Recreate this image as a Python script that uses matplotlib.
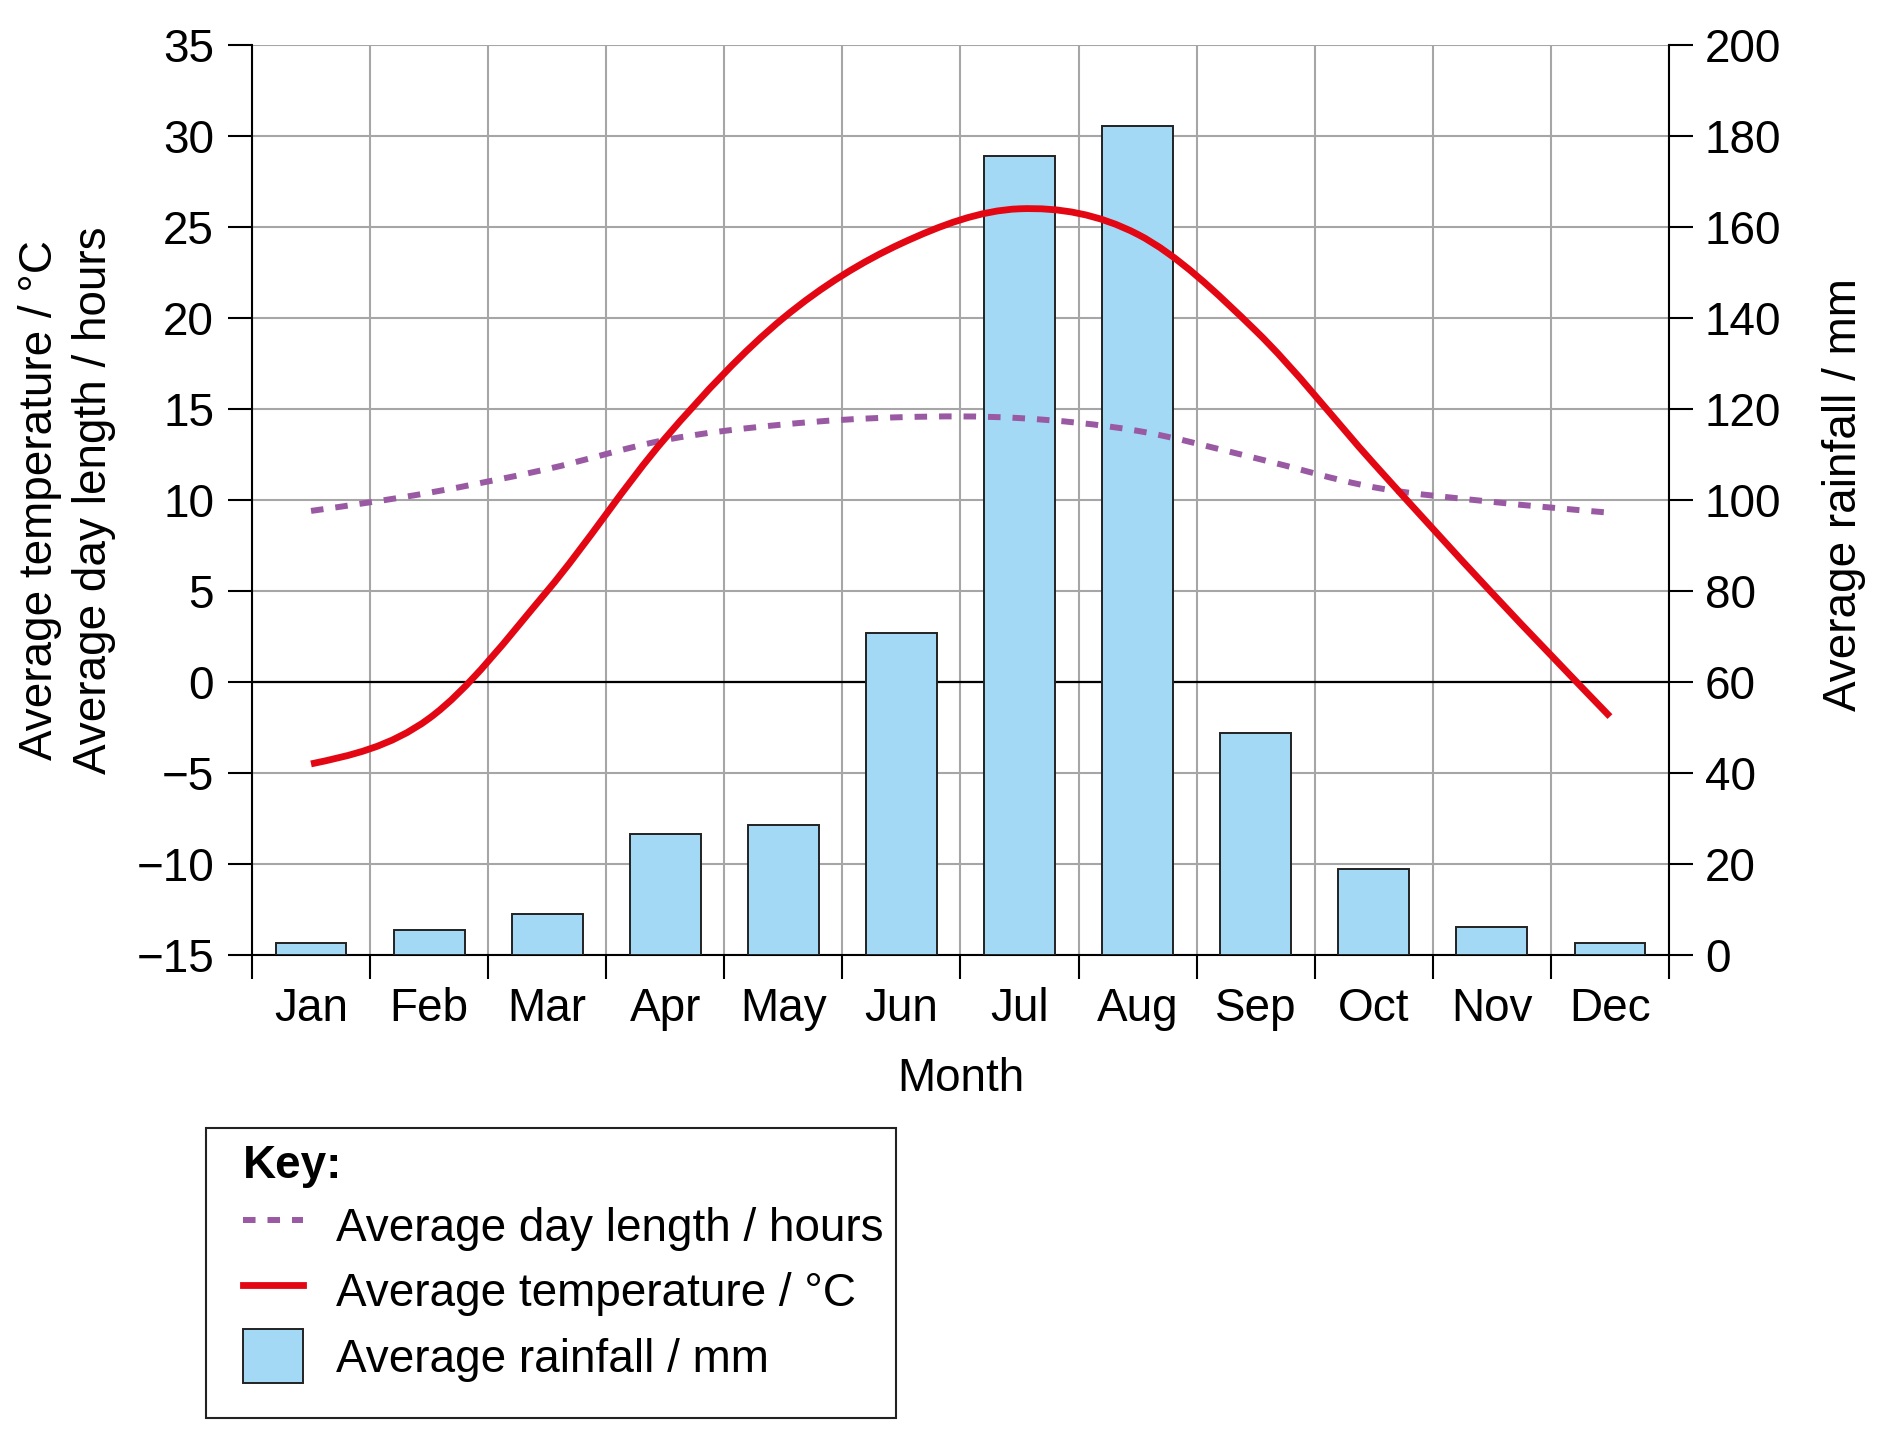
#!/usr/bin/env python3
"""
Climate graph: monthly rainfall bars with temperature and day length curves.
"""

import numpy as np
import matplotlib

matplotlib.use("Agg")
import matplotlib.pyplot as plt
from matplotlib.path import Path
from matplotlib.patches import PathPatch, Patch, Rectangle
from matplotlib.lines import Line2D

months = ["Jan", "Feb", "Mar", "Apr", "May", "Jun",
          "Jul", "Aug", "Sep", "Oct", "Nov", "Dec"]
rainfall_mm = [2.6, 5.6, 9.1, 26.5, 28.6, 70.7, 175.5, 182.2, 48.7, 18.8, 6.1, 2.6]
temperature_c = [-4.5, -2.0, 5.0, 13.4, 20.0, 24.1, 26.0, 24.6, 19.3, 12.0, 4.9, -1.9]
day_length_h = [9.4, 10.4, 11.7, 13.3, 14.15, 14.55, 14.5, 13.8, 12.3, 10.7, 9.9, 9.3]

temp_ticks = list(range(-15, 36, 5))
rain_ticks = list(range(0, 201, 20))

RED = "#e30613"
PURPLE = "#9a5aa3"
BLUE = "#a3d9f5"
EDGE = "#222222"
GRID = "#a6a6a6"
FS = 33

plt.rcParams["font.family"] = ["Liberation Sans", "DejaVu Sans"]


def smooth_path(xs, ys):
    # cubic Hermite curve through the points, drawn as Bezier segments
    xs = np.asarray(xs, float)
    ys = np.asarray(ys, float)
    m = np.gradient(ys, xs)
    m[0] = (3 * (ys[1] - ys[0]) - m[1]) / 2
    m[-1] = (3 * (ys[-1] - ys[-2]) - m[-2]) / 2
    verts = [(xs[0], ys[0])]
    codes = [Path.MOVETO]
    for i in range(len(xs) - 1):
        d = (xs[i + 1] - xs[i]) / 3
        verts += [(xs[i] + d, ys[i] + m[i] * d),
                  (xs[i + 1] - d, ys[i + 1] - m[i + 1] * d),
                  (xs[i + 1], ys[i + 1])]
        codes += [Path.CURVE4] * 3
    return Path(verts, codes)


def main() -> None:
    W, H = 1890, 1432
    fig = plt.figure(figsize=(W / 100, H / 100), dpi=100)
    left, right, top, bottom = 252, 1669, 45, 955
    ax = fig.add_axes([left / W, 1 - bottom / H, (right - left) / W, (bottom - top) / H])

    x = np.arange(len(months))
    tlim = (temp_ticks[0], temp_ticks[-1])
    rlim = (rain_ticks[0], rain_ticks[-1])

    # rainfall bars (right axis) with grid underneath
    ax.bar(x, rainfall_mm, width=0.6, color=BLUE, edgecolor=EDGE, linewidth=1.4, zorder=3)
    ax.set_xlim(-0.5, len(months) - 0.5)
    ax.set_ylim(*rlim)
    ax.set_yticks(rain_ticks)
    ax.set_xticks(np.arange(-0.5, len(months), 1))
    ax.set_xticklabels([])
    ax.set_xticks(x, minor=True)
    ax.set_xticklabels(months, minor=True)
    ax.grid(True, which="major", color=GRID, lw=1.5, zorder=0)
    ax.set_axisbelow(True)
    zero_level = rlim[0] + (0 - tlim[0]) / (tlim[1] - tlim[0]) * (rlim[1] - rlim[0])
    ax.axhline(zero_level, color="k", lw=1.6, zorder=1)

    ax.tick_params(axis="x", which="major", length=17.3, width=1.5, direction="out")
    ax.tick_params(axis="x", which="minor", length=0, pad=23, labelsize=FS)
    ax.spines["top"].set_visible(False)
    for s in ("left", "right", "bottom"):
        ax.spines[s].set_linewidth(1.5)
        ax.spines[s].set_color("k")
    ax.set_xlabel("Month", fontsize=FS, labelpad=19)

    # temperature / day length (left axis) on top
    tax = ax.twinx()
    ax.yaxis.tick_right()
    ax.tick_params(axis="y", length=17.3, width=1.5, pad=8.5, labelsize=FS)
    tax.set_ylim(*tlim)
    tax.set_yticks(temp_ticks)
    tax.yaxis.tick_left()
    tax.tick_params(axis="y", length=17.3, width=1.5, pad=10, labelsize=FS)
    for s in tax.spines.values():
        s.set_visible(False)

    tax.add_patch(PathPatch(smooth_path(x, day_length_h), fill=False, edgecolor=PURPLE,
                            lw=4.3, linestyle=(0, (2.1, 2.0)), capstyle="butt", zorder=4))
    tax.add_patch(PathPatch(smooth_path(x, temperature_c), fill=False, edgecolor=RED,
                            lw=4.9, capstyle="butt", zorder=5))

    fig.text(40 / W, 1 - 500 / H, "Average temperature / °C", rotation=90,
             ha="center", va="center", fontsize=FS)
    fig.text(94 / W, 1 - 500 / H, "Average day length / hours", rotation=90,
             ha="center", va="center", fontsize=FS)
    fig.text(1844 / W, 1 - 495 / H, "Average rainfall / mm", rotation=90,
             ha="center", va="center", fontsize=FS)

    # key: frame drawn separately, legend content placed inside it
    fig.patches.append(Rectangle((206 / W, 1 - 1418 / H), 690 / W, 290 / H,
                                 transform=fig.transFigure, fill=False,
                                 edgecolor=EDGE, linewidth=1.5))
    handles = [
        Line2D([], [], color=PURPLE, lw=4.3, linestyle=(0, (2.1, 2.0)), dash_capstyle="butt"),
        Line2D([], [], color=RED, lw=4.9),
        Patch(facecolor=BLUE, edgecolor=EDGE, linewidth=1.4),
    ]
    labels = ["Average day length / hours", "Average temperature / °C", "Average rainfall / mm"]
    fig.legend(handles, labels, loc="upper left",
               bbox_to_anchor=(243 / W, 1 - 1144 / H), borderaxespad=0, borderpad=0,
               title="Key:", alignment="left",
               title_fontproperties={"weight": "bold", "size": FS},
               fontsize=FS, frameon=False, handlelength=1.3, handleheight=1.44,
               handletextpad=0.72, labelspacing=0.24)

    fig.savefig("out.png", dpi=100)
    plt.close(fig)


if __name__ == "__main__":
    main()
